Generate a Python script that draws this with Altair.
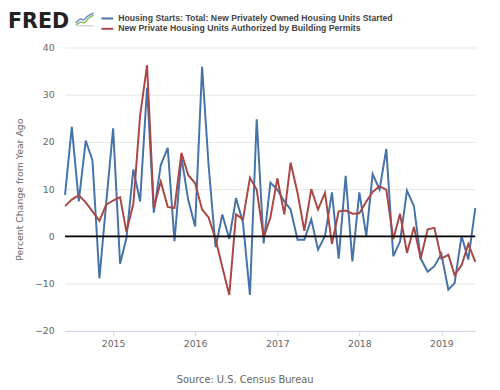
import altair as alt
import pandas as pd

# ---- data ----
dates = pd.date_range("2014-06-01", "2019-06-01", freq="MS").strftime("%Y-%m-%d").tolist()

starts = [8.8, 23.2, 7.4, 20.3, 16.1, -8.9, 7.0, 22.9, -5.8, -0.4, 14.2, 7.4, 31.5,
          5.0, 15.1, 18.75, -1.0, 16.8, 7.8, 2.1, 35.9, 15.0, -2.3, 4.65, -0.55, 8.1,
          2.9, -12.4, 24.8, -1.5, 11.4, 9.9, 7.4, 5.7, -0.7, -0.7, 3.6, -2.8, 0.1, 9.3,
          -4.7, 12.8, -5.3, 9.3, 0.1, 13.2, 9.9, 18.5, -4.2, -1.1, 9.7, 6.4, -4.7, -7.5,
          -6.3, -3.7, -11.3, -9.9, 0.1, -4.9, 6.0]

permits = [6.4, 7.8, 8.7, 7.2, 5.3, 3.3, 6.7, 7.6, 8.3, 1.0, 6.9, 25.5, 36.25, 6.0,
           11.6, 6.25, 6.0, 17.7, 13.0, 11.25, 5.7, 4.0, -0.6, -6.5, -12.4, 4.65, 3.6,
           12.4, 9.9, -0.2, 4.0, 12.3, 4.65, 15.6, 9.2, 1.2, 10.0, 5.7, 9.2, -1.6, 5.3,
           5.5, 4.8, 4.9, 7.4, 9.4, 10.6, 9.9, -0.6, 4.8, -3.5, 2.0, -4.7, 1.5, 1.8,
           -4.7, -3.9, -8.2, -6.1, -1.6, -5.4]

series_names = ["Housing Starts: Total: New Privately Owned Housing Units Started",
                "New Private Housing Units Authorized by Building Permits"]
series_colors = ["#4572a7", "#aa4643"]
year_ticks = [2015, 2016, 2017, 2018, 2019]
y_ticks = [-20, -10, 0, 10, 20, 30, 40]
y_title = "Percent Change from Year Ago"
source_text = "Source: U.S. Census Bureau"
logo_text = "FRED"

df_starts = pd.DataFrame({"date": dates, "value": starts, "series": series_names[0]})
df_permits = pd.DataFrame({"date": dates, "value": permits, "series": series_names[1]})

x_enc = alt.X(
    "date:T",
    scale=alt.Scale(type="utc",
                    domain=[alt.DateTime(year=2014, month=6, date=1, utc=True),
                            alt.DateTime(year=2019, month=6, date=1, utc=True)]),
    axis=alt.Axis(values=[alt.DateTime(year=y, month=1, date=1, utc=True) for y in year_ticks],
                  format="%Y", formatType="utc", title=None, grid=False,
                  domainColor="#ccd6eb", tickColor="#ccd6eb", tickSize=5,
                  labelColor="#666666", labelFontSize=9.5, labelPadding=3),
)
y_enc = alt.Y(
    "value:Q",
    scale=alt.Scale(domain=[-20, 40], nice=False, zero=False),
    axis=alt.Axis(values=y_ticks, title=y_title, grid=True, gridColor="#e6e6e6",
                  domain=False, ticks=False, labelPadding=11, labelColor="#666666",
                  labelFontSize=9.5, titleColor="#666666", titleFontSize=9.5,
                  titleFontWeight="normal", titleX=-46, titleY=144, titleBaseline="middle"),
)

line_starts = alt.Chart(df_starts).mark_line(strokeWidth=2, color=series_colors[0]).encode(x=x_enc, y=y_enc)
line_permits = alt.Chart(df_permits).mark_line(strokeWidth=2, color=series_colors[1]).encode(x=x_enc, y=y_enc)

zero_rule = alt.Chart(pd.DataFrame({"z": [0]})).mark_rule(color="black", strokeWidth=2).encode(y="z:Q")

one = pd.DataFrame({"t": [logo_text]})
logo = alt.Chart(one).mark_text(
    align="left", baseline="alphabetic", font="DejaVu Sans", fontWeight="bold",
    fontSize=21, color="#222222"
).encode(x=alt.value(-58), y=alt.value(-20), text="t:N")


def seg(x1, y1, x2, y2, color, w=1.5):
    return alt.Chart(one).mark_rule(color=color, strokeWidth=w).encode(
        x=alt.value(x1), y=alt.value(y1), x2=alt.value(x2), y2=alt.value(y2))


# small decorative logo icon (style element, not data)
icon_green = [(11, -23), (16, -26), (20, -25), (24, -30), (29, -33)]
icon_blue = [(11, -25), (15, -29), (19, -28), (23, -32), (29, -35)]
icon_layers = []
for pts, col in ((icon_green, "#8cb860"), (icon_blue, "#6a8fc0")):
    for (a, b), (c, d) in zip(pts[:-1], pts[1:]):
        icon_layers.append(seg(a, b, c, d, col))
icon_layers.append(seg(11, -22, 29, -22, "#b8c4d0", 1))

leg_rule1 = alt.Chart(one).mark_rule(color=series_colors[0], strokeWidth=2).encode(
    x=alt.value(37), x2=alt.value(49), y=alt.value(-29.5))
leg_rule2 = alt.Chart(one).mark_rule(color=series_colors[1], strokeWidth=2).encode(
    x=alt.value(37), x2=alt.value(49), y=alt.value(-19))

leg_text1 = alt.Chart(pd.DataFrame({"t": [series_names[0]]})).mark_text(
    align="left", baseline="middle", font="Liberation Sans", fontWeight="bold",
    fontSize=8.86, color="#444444"
).encode(x=alt.value(54), y=alt.value(-30), text="t:N")
leg_text2 = alt.Chart(pd.DataFrame({"t": [series_names[1]]})).mark_text(
    align="left", baseline="middle", font="Liberation Sans", fontWeight="bold",
    fontSize=8.86, color="#444444"
).encode(x=alt.value(54), y=alt.value(-19.5), text="t:N")

source = alt.Chart(pd.DataFrame({"t": [source_text]})).mark_text(
    align="center", baseline="middle", fontSize=10, color="#666666"
).encode(x=alt.value(183), y=alt.value(338), text="t:N")

chart = alt.layer(
    line_starts, line_permits, zero_rule, logo, *icon_layers,
    leg_rule1, leg_rule2, leg_text1, leg_text2, source
).properties(
    width=417, height=288,
    autosize=alt.AutoSizeParams(type="none"),
    padding={"left": 58, "top": 37, "right": 17, "bottom": 57},
).configure(font="DejaVu Sans").configure_view(strokeWidth=0)

chart.save("out.html", embed_options={"renderer": "svg", "actions": False})
